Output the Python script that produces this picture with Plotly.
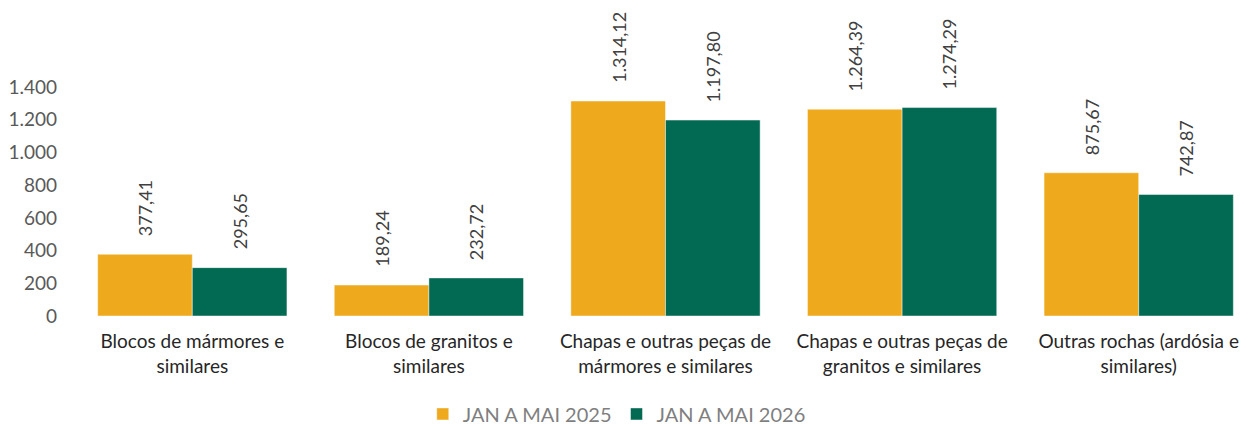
import plotly.graph_objects as go

categories = ["Blocos de mármores e<br>similares",
              "Blocos de granitos e<br>similares",
              "Chapas e outras peças de<br>mármores e similares",
              "Chapas e outras peças de<br>granitos e similares",
              "Outras rochas (ardósia e<br>similares)"]
values_2025 = [377.41, 189.24, 1314.12, 1264.39, 875.67]
values_2026 = [295.65, 232.72, 1197.80, 1274.29, 742.87]
series_names = ["JAN A MAI 2025", "JAN A MAI 2026"]
tick_vals = [0, 200, 400, 600, 800, 1000, 1200, 1400]
tick_text = ["0", "200", "400", "600", "800", "1.000", "1.200", "1.400"]

def br(v):
    s = f"{v:,.2f}"
    return s.replace(",", "X").replace(".", ",").replace("X", ".")

FONT = "Lato, 'Open Sans', sans-serif"
colors = ["#EFA91C", "#026A53"]
xs = list(range(len(categories)))

fig = go.Figure()
for name, vals, col in zip(series_names, [values_2025, values_2026], colors):
    fig.add_trace(go.Bar(x=xs, y=vals, name=name, marker_color=col,
                         marker_line_color="rgba(255,255,255,0.45)", marker_line_width=1))

bargap = 0.2
half = (1 - bargap) / 4
for vals, sgn in [(values_2025, -1), (values_2026, 1)]:
    for i, v in enumerate(vals):
        fig.add_annotation(x=i + sgn * half, y=v, xref="x", yref="y", text=br(v),
                           textangle=-90, showarrow=False, yanchor="bottom",
                           yshift=16, font=dict(family=FONT, size=18, color="#404040"))

fig.update_layout(
    width=1249, height=417, barmode="group", bargap=bargap, bargroupgap=0,
    plot_bgcolor="white", paper_bgcolor="white",
    margin=dict(l=66, r=0, t=0, b=109, autoexpand=False),
    font=dict(family=FONT),
    xaxis=dict(tickmode="array", tickvals=xs, ticktext=categories,
               tickfont=dict(family=FONT, size=19, color="#262626"),
               showline=False, showgrid=False, ticks="", range=[-0.5, 4.5],
               automargin=False, ticklabelstandoff=12),
    yaxis=dict(range=[0, 1883], tickvals=tick_vals, ticktext=tick_text,
               tickfont=dict(family=FONT, size=19, color="#595959"),
               showgrid=False, zeroline=False, showline=False, ticklabelstandoff=16,
               automargin=False),
    legend=dict(orientation="h", xref="container", x=0.4874, xanchor="center",
                y=-0.318, yanchor="middle",
                font=dict(family=FONT, size=20, color="#7F7F7F"), itemwidth=30,
                tracegroupgap=0),
    showlegend=True,
)
fig.write_html("out.html")
